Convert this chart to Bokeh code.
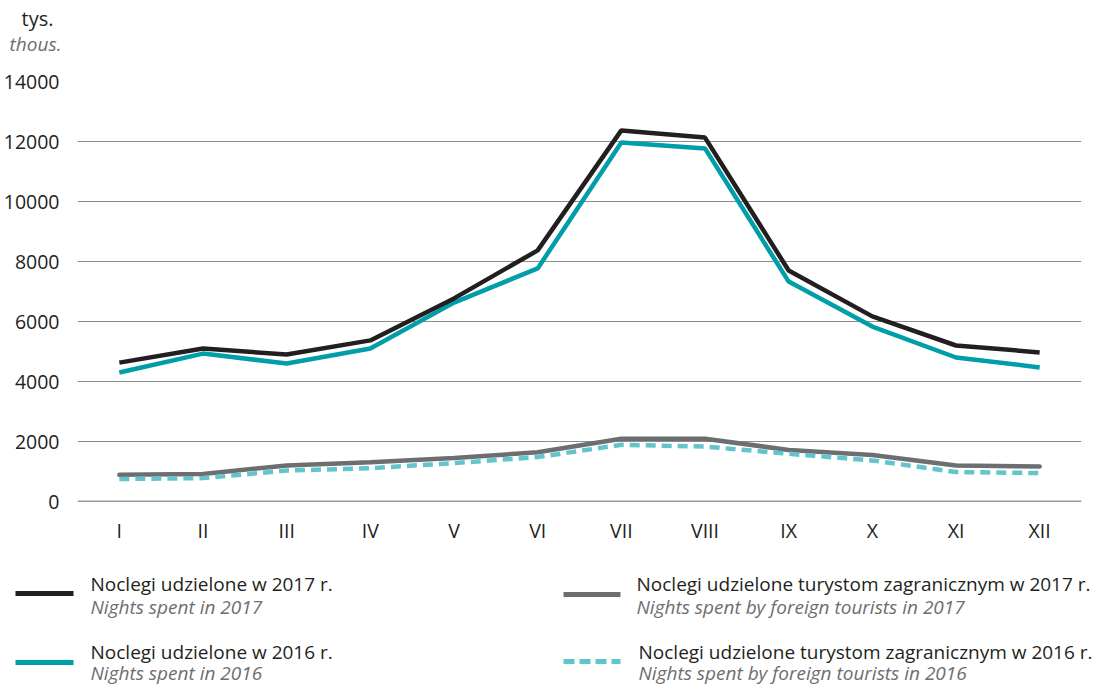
from bokeh.plotting import figure
from bokeh.models import FactorRange, Range1d, FixedTicker, Span
from bokeh.layouts import column
from bokeh.core.properties import value
from bokeh.embed import file_html
from bokeh.resources import INLINE

months = ["I", "II", "III", "IV", "V", "VI", "VII", "VIII", "IX", "X", "XI", "XII"]
nights_2017 = [4630, 5100, 4900, 5370, 6770, 8370, 12370, 12130, 7700, 6170, 5200, 4970]
nights_2016 = [4300, 4930, 4600, 5100, 6630, 7770, 11970, 11770, 7330, 5830, 4800, 4470]
foreign_2017 = [890, 920, 1200, 1310, 1450, 1640, 2090, 2090, 1720, 1550, 1200, 1170]
foreign_2016 = [750, 780, 1030, 1110, 1280, 1480, 1890, 1830, 1590, 1370, 980, 950]
y_ticks = [0, 2000, 4000, 6000, 8000, 10000, 12000, 14000]

FONT = "Open Sans"
BLACK = "#231f20"
TEAL = "#009ea8"
GRAY = "#6d6e71"
LTEAL = "#64c4cc"
W = 1098

# header with unit labels
HH = 68
hdr = figure(width=W, height=HH, x_range=Range1d(0, W), y_range=Range1d(HH, 0),
             output_backend="svg", toolbar_location=None, min_border=0, frame_align=False)
hdr.axis.visible = False
hdr.grid.visible = False
hdr.outline_line_color = None
hdr.text(x=[37], y=[18], text=["tys."], text_font=value(FONT), text_font_size="20px",
         text_color=BLACK, text_align="center", text_baseline="middle")
hdr.text(x=[35], y=[43], text=["thous."], text_font=value(FONT), text_font_size="19px",
         text_font_style="italic", text_color=GRAY, text_align="center", text_baseline="middle")

# main chart
p = figure(width=W, height=483, x_range=FactorRange(*months, range_padding=0),
           y_range=Range1d(0, 14000), output_backend="svg", toolbar_location=None,
           min_border_left=75, min_border_right=17, min_border_top=13, min_border_bottom=50,
           frame_align=False)
p.outline_line_color = None
p.xgrid.grid_line_color = None
p.ygrid.grid_line_color = "#8c8c8c"
p.ygrid.grid_line_width = 1
p.yaxis.ticker = FixedTicker(ticks=y_ticks)
for ax in (p.xaxis, p.yaxis):
    ax.axis_line_color = None
    ax.major_tick_line_color = None
    ax.minor_tick_line_color = None
    ax.major_label_text_font = FONT
    ax.major_label_text_font_size = "19.5px"
    ax.major_label_text_color = BLACK
p.yaxis.major_label_standoff = 12
p.xaxis.major_label_standoff = 9
p.add_layout(Span(location=0, dimension="width", line_color="#333333", line_width=1.5))

p.line(months, foreign_2017, line_color=GRAY, line_width=4.5, line_cap="round")
p.line(months, foreign_2016, line_color=LTEAL, line_width=4.5, line_dash="10 6")
p.line(months, nights_2016, line_color=TEAL, line_width=4.5)
p.line(months, nights_2017, line_color=BLACK, line_width=4.5)

# legend
LH = 134
leg = figure(width=W, height=LH, x_range=Range1d(0, W), y_range=Range1d(LH, 0),
             output_backend="svg", toolbar_location=None, min_border=0, frame_align=False)
leg.axis.visible = False
leg.grid.visible = False
leg.outline_line_color = None

leg.segment(x0=[15], y0=[42], x1=[73], y1=[42], line_color=BLACK, line_width=5)
leg.segment(x0=[15], y0=[111], x1=[73], y1=[111], line_color=TEAL, line_width=5)
leg.segment(x0=[563], y0=[43], x1=[620], y1=[43], line_color=GRAY, line_width=5)
leg.segment(x0=[563], y0=[110], x1=[620], y1=[110], line_color=LTEAL, line_width=5,
            line_dash="11 5")

main_labels = ["Noclegi udzielone w 2017 r.", "Noclegi udzielone w 2016 r.",
               "Noclegi udzielone turystom zagranicznym w 2017 r.",
               "Noclegi udzielone turystom zagranicznym w 2016 r."]
sub_labels = ["Nights spent in 2017", "Nights spent in 2016",
              "Nights spent by foreign tourists in 2017",
              "Nights spent by foreign tourists in 2016"]
lx = [90, 90, 636, 638]
ly1 = [32, 100, 32, 100]
ly2 = [55, 121, 55, 121]
leg.text(x=lx, y=ly1, text=main_labels, text_font=value(FONT), text_font_size="19px",
         text_color=BLACK, text_baseline="middle")
leg.text(x=lx, y=ly2, text=sub_labels, text_font=value(FONT), text_font_size="19px",
         text_font_style="italic", text_color=GRAY, text_baseline="middle")

layout = column(hdr, p, leg, spacing=0)
open("out.html", "w").write(file_html(layout, INLINE))
